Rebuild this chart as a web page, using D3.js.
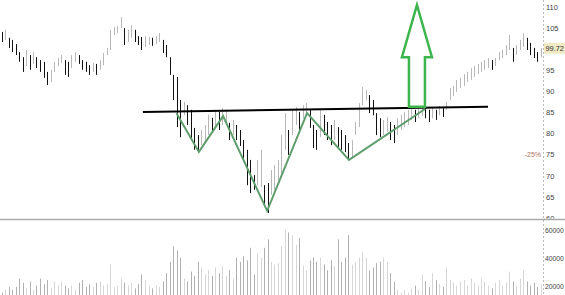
<!DOCTYPE html>
<html><head><meta charset="utf-8">
<script src="https://cdn.jsdelivr.net/npm/d3@7"></script>
<style>body{margin:0;background:#fff}svg{display:block}</style>
</head><body>
<svg id="c" width="565" height="295"></svg>
<script>
// ---- data ----
const high = [104.2,104.7,102.8,102.3,101.3,99.4,98.2,99.9,98.7,99.4,98.2,97.5,97.1,94.7,95.2,97.1,98.0,98.7,97.5,97.1,
98.7,99.4,98.7,97.5,97.1,96.3,96.8,96.6,97.5,99.2,100.4,104.7,105.4,105.6,107.7,105.1,104.7,105.8,104.7,103.2,
103.0,103.2,103.0,102.8,103.2,103.9,102.3,101.1,98.2,94.0,93.5,88.0,87.6,86.8,85.7,81.4,79.7,80.9,82.1,84.5,
83.8,85.7,85.2,86.1,85.7,82.6,83.3,82.1,80.9,78.5,76.2,73.8,70.2,73.8,76.2,67.8,68.3,71.4,72.6,73.8,
79.7,84.9,80.9,85.7,86.4,85.2,86.8,87.3,85.7,82.1,80.9,85.7,84.5,82.8,82.1,83.3,81.6,80.9,79.7,77.8,
78.5,82.8,87.3,91.1,90.4,89.2,88.0,84.9,83.7,83.3,84.0,82.8,82.1,83.7,84.5,85.2,85.7,86.1,85.7,86.1,
86.6,86.1,85.7,86.1,85.7,86.6,86.1,87.6,90.9,91.4,92.8,93.3,94.2,94.7,95.6,96.1,96.6,97.1,97.5,98.0,
97.5,98.0,99.4,99.9,101.1,103.5,100.4,101.1,102.3,103.9,102.8,101.6,100.4,99.4,100.4];
const low = [101.8,102.3,100.4,99.4,98.7,97.1,94.7,96.1,95.2,96.6,95.6,94.7,93.3,91.6,92.3,94.7,96.1,96.8,94.0,93.5,
95.6,97.1,96.6,95.2,94.7,94.0,94.7,94.0,95.2,96.3,98.7,99.9,103.5,103.9,105.1,101.1,101.8,102.8,101.8,101.1,
99.9,100.6,101.1,100.9,101.3,101.8,99.2,98.2,94.0,88.0,81.6,79.2,84.4,82.1,78.5,76.2,75.7,77.3,77.8,79.7,
80.4,81.4,80.9,82.1,82.8,78.5,79.7,78.5,77.1,73.8,67.8,65.9,66.7,67.8,67.4,63.1,61.2,65.5,66.7,69.0,
70.2,76.2,75.0,79.7,82.1,80.9,83.7,84.9,81.4,76.6,76.2,79.2,79.7,78.5,77.3,78.5,76.9,76.2,75.7,73.8,
74.3,79.7,81.6,86.8,88.0,84.9,84.4,79.7,79.2,79.7,80.4,78.5,77.8,79.7,80.9,81.6,82.1,83.3,82.8,83.7,
84.2,83.7,82.8,83.7,83.3,84.4,84.0,85.7,88.0,89.0,89.9,90.9,91.4,92.3,92.8,93.5,94.2,94.7,95.2,95.6,
95.2,96.1,97.5,98.0,98.7,99.9,97.1,98.7,99.9,100.6,99.9,98.7,98.0,97.1,98.2];
const volume = [16,18,20,18,20,26,23,19,24,18,21,26,22,25,19,24,21,24,21,19,
21,18,23,25,20,22,20,23,24,21,22,36,20,21,26,23,21,23,19,22,
29,25,21,19,21,20,24,30,38,49,46,41,26,24,31,28,38,34,29,32,
28,34,30,35,28,32,26,41,38,42,39,48,29,44,41,48,54,38,36,37,
49,61,59,57,50,55,35,32,39,41,38,41,36,32,39,35,54,38,41,57,
36,38,41,45,41,32,34,37,38,41,38,30,24,18,16,18,16,19,21,18,
29,24,20,30,25,22,20,34,25,23,21,24,25,21,26,23,21,26,24,21,
19,23,25,21,23,31,24,21,26,32,24,21,23,20,22].map(v => v * 1000);
const priceTicks = [110,105,95,90,85,80,75,70,65,60];
const volumeTicks = [60000,40000,20000];
const lastPrice = 99.72;
const pctLabel = "-25%";
const pctLevel = 75;
// inverse head & shoulders: [bar index, price]
const pattern = [[50,84.9],[56.4,75.7],[63.3,84.2],[75.9,61.7],[87.3,84.9],[99.3,73.8],[121,85.9]];
const neckline = [[40.4,85.2],[139,86.4]];
const arrow = {index:118.7, base:86.4, head:98.2, tip:110.6};

// ---- layout ----
const W = 565, H = 295, axisX = 543, sepY = 219.5;
const svg = d3.select("#c");
const x = d3.scaleLinear().domain([0, high.length - 1]).range([1.5, 540.5]);
const y = d3.scaleLinear().domain([60, 110]).range([218, 7.5]);
const yv = d3.scaleLinear().domain([0, 60000]).range([315, 231]);
const font = "'Liberation Sans', Arial, sans-serif";

svg.append("clipPath").attr("id","pclip").append("rect").attr("x",0).attr("y",0).attr("width",axisX).attr("height",sepY);
svg.append("clipPath").attr("id","vclip").append("rect").attr("x",0).attr("y",sepY).attr("width",axisX).attr("height",H-sepY);

const mid = high.map((h,i)=>(h+low[i])/2);
const isUp = mid.map((m,i)=> i>0 && m > mid[i-1]);

// volume bars
svg.append("g").attr("clip-path","url(#vclip)").selectAll("line").data(volume).join("line")
  .attr("x1",(d,i)=>Math.round(x(i))+0.5).attr("x2",(d,i)=>Math.round(x(i))+0.5)
  .attr("y1",yv(0)).attr("y2",d=>yv(d))
  .attr("stroke",(d,i)=>isUp[i]?"#d6d6d6":"#b0b0b0").attr("stroke-width",1);

// price bars
const pg = svg.append("g").attr("clip-path","url(#pclip)");
pg.selectAll("line.bar").data(high).join("line").attr("class","bar")
  .attr("x1",(d,i)=>Math.round(x(i))+0.5).attr("x2",(d,i)=>Math.round(x(i))+0.5)
  .attr("y1",d=>y(d)).attr("y2",(d,i)=>y(low[i]))
  .attr("stroke",(d,i)=>isUp[i]?"#b8b8b8":"#111").attr("stroke-width",1);

// neckline
pg.append("path").attr("d",d3.line().x(d=>x(d[0])).y(d=>y(d[1]))(neckline))
  .attr("stroke","#000").attr("stroke-width",2).attr("fill","none");
// pattern
pg.append("path").attr("d",d3.line().x(d=>x(d[0])).y(d=>y(d[1]))(pattern))
  .attr("stroke","#5f9d6c").attr("stroke-width",2).attr("fill","none").attr("stroke-linejoin","miter");
// arrow
const ax = x(arrow.index), hw = 15, sw = 8;
const ap = [[ax-sw,y(arrow.base)],[ax-sw,y(arrow.head)],[ax-hw,y(arrow.head)],[ax,y(arrow.tip)],
  [ax+hw,y(arrow.head)],[ax+sw,y(arrow.head)],[ax+sw,y(arrow.base)]];
pg.append("path").attr("d",d3.line()(ap)+"Z").attr("fill","none")
  .attr("stroke","#3cb54c").attr("stroke-width",2.5).attr("stroke-linejoin","miter");

// separator
svg.append("line").attr("x1",0).attr("x2",W).attr("y1",sepY).attr("y2",sepY)
  .attr("stroke","#aaa").attr("stroke-width",1.5);
// axis dotted line
svg.append("line").attr("x1",axisX+0.5).attr("x2",axisX+0.5).attr("y1",0).attr("y2",H)
  .attr("stroke","#bbb").attr("stroke-dasharray","2,2");

// price axis labels
svg.append("clipPath").attr("id","pl").append("rect").attr("x",axisX).attr("y",0).attr("width",W-axisX).attr("height",sepY-1);
svg.append("g").attr("clip-path","url(#pl)").selectAll("text").data(priceTicks).join("text")
  .attr("x",546).attr("y",d=>y(d)).attr("dy","0.35em")
  .attr("font-family",font).attr("font-size",7.5).attr("fill","#444").text(d=>d);
// volume axis labels
svg.append("g").selectAll("text").data(volumeTicks).join("text")
  .attr("x",545).attr("y",d=>yv(d)).attr("dy","0.35em")
  .attr("font-family",font).attr("font-size",6.8).attr("fill","#444").text(d=>d);

// last price label
svg.append("rect").attr("x",544).attr("y",y(lastPrice)-8).attr("width",21).attr("height",11).attr("fill","#efe9c4");
svg.append("text").attr("x",545.5).attr("y",y(lastPrice)-2.5).attr("dy","0.35em")
  .attr("font-family",font).attr("font-size",7.3).attr("fill","#333").text(lastPrice.toFixed(2));
// percent label
svg.append("text").attr("x",541).attr("y",y(pctLevel)).attr("dy","0.35em").attr("text-anchor","end")
  .attr("font-family",font).attr("font-size",7).attr("fill","#b0705f").text(pctLabel);
</script>
</body></html>
